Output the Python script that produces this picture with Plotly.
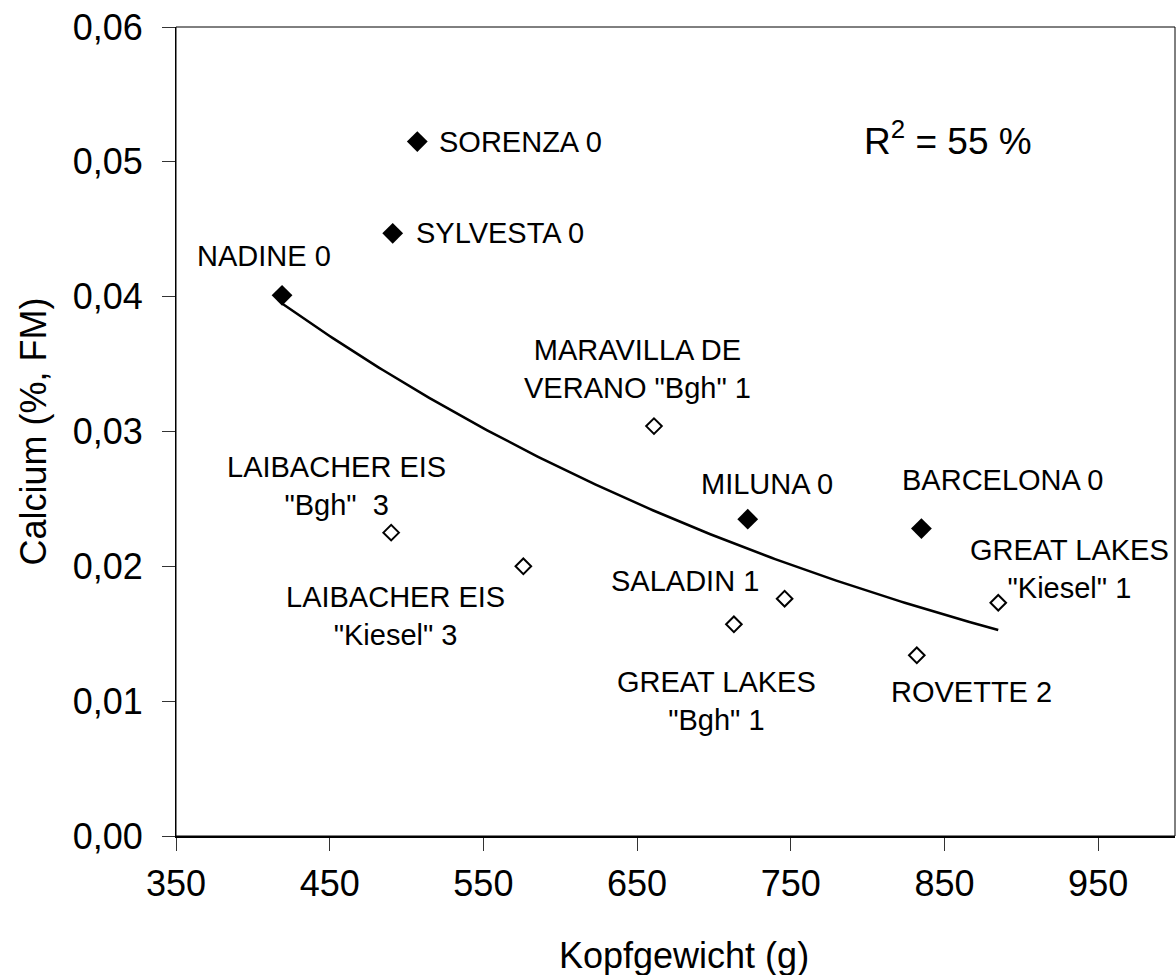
import numpy as np
import plotly.graph_objects as go

# Lettuce cultivars: head weight vs. calcium content (fresh matter)
cultivars = [
    "NADINE 0",
    "SYLVESTA 0",
    "SORENZA 0",
    'LAIBACHER EIS<br>"Bgh"\u00a0 3',
    'LAIBACHER EIS<br>"Kiesel" 3',
    'MARAVILLA DE<br>VERANO "Bgh" 1',
    'GREAT LAKES<br>"Bgh" 1',
    "MILUNA 0",
    "SALADIN 1",
    "ROVETTE 2",
    "BARCELONA 0",
    'GREAT LAKES<br>"Kiesel" 1',
]
kopfgewicht = [419, 491, 507, 490, 576, 661, 713, 722, 746, 832, 835, 885]
calcium = [0.0401, 0.0447, 0.0515, 0.0225, 0.0200, 0.0304, 0.0157, 0.0235,
           0.0176, 0.0134, 0.0228, 0.0173]
score = [0, 0, 0, 3, 3, 1, 1, 0, 1, 2, 0, 1]

x_ticks = [350, 450, 550, 650, 750, 850, 950]
y_ticks = [0.00, 0.01, 0.02, 0.03, 0.04, 0.05, 0.06]
r2_percent = 55

# label placement relative to each marker (pixels): anchor, dx, dy (screen, down positive)
label_anchor = ["center", "left", "left", "center", "center", "center", "center",
                "center", "right", "left", "center", "center"]
label_dx = [-18, 21, 20, -55, -128, -16, -17, 19, -24, -28, 81, 71]
label_dy = [-39, 0, 0, -47, 50, -57, 77, -35, -18, 37, -49, -34]

FONT = "Liberation Sans, Arial, sans-serif"

x = np.array(kopfgewicht, dtype=float)
y = np.array(calcium, dtype=float)
zero = np.array(score) == 0

# exponential trend line (least squares on ln y)
b, ln_a = np.polyfit(x, np.log(y), 1)
xt = np.linspace(x.min(), x.max(), 200)
yt = np.exp(ln_a + b * xt)

fig = go.Figure()
fig.add_trace(go.Scatter(x=xt, y=yt, mode="lines",
                         line=dict(color="black", width=2.5), hoverinfo="skip"))
fig.add_trace(go.Scatter(x=x[~zero], y=y[~zero], mode="markers",
                         marker=dict(symbol="diamond", size=12, color="white",
                                     line=dict(color="black", width=2))))
fig.add_trace(go.Scatter(x=x[zero], y=y[zero], mode="markers",
                         marker=dict(symbol="diamond", size=16, color="black",
                                     line=dict(width=0))))

for name, xv, yv, anc, dx, dy in zip(cultivars, kopfgewicht, calcium,
                                     label_anchor, label_dx, label_dy):
    fig.add_annotation(x=xv, y=yv, xref="x", yref="y", text=name, showarrow=False,
                       xanchor=anc, yanchor="middle", xshift=dx, yshift=-dy,
                       align="center", font=dict(family=FONT, size=29, color="black"))

fig.add_annotation(x=0.773, y=0.862, xref="paper", yref="paper",
                   text=f"R<sup>2</sup> = {r2_percent} %", showarrow=False,
                   xanchor="center", yanchor="middle",
                   font=dict(family=FONT, size=37, color="black"))

# axis titles
fig.add_annotation(x=0, y=0.5, xref="paper", yref="paper", text="Calcium (%, FM)",
                   textangle=-90, showarrow=False, xanchor="center", yanchor="middle",
                   xshift=-143, font=dict(family=FONT, size=36, color="black"))
fig.add_annotation(x=0.5, y=0, xref="paper", yref="paper", text="Kopfgewicht (g)",
                   showarrow=False, xanchor="center", yanchor="middle",
                   xshift=8, yshift=-119, font=dict(family=FONT, size=36, color="black"))

# plot-area frame
fig.add_shape(type="rect", xref="paper", yref="paper", x0=0, y0=0, x1=1, y1=1,
              line=dict(color="black", width=1), layer="above")

fig.update_layout(
    width=1176, height=975,
    margin=dict(l=176, r=1, t=27, b=139),
    plot_bgcolor="white", paper_bgcolor="white",
    showlegend=False, separators=",.",
    font=dict(family=FONT, color="black"),
)
fig.update_xaxes(range=[350, 1000], tickvals=x_ticks, ticks="outside", ticklen=13,
                 tickwidth=1, tickcolor="#333", showline=True, linecolor="black",
                 linewidth=2, showgrid=False, zeroline=False,
                 tickfont=dict(family=FONT, size=36), ticklabelstandoff=2)
fig.update_yaxes(range=[0, 0.06], tickvals=y_ticks, tickformat=".2f", ticks="outside",
                 ticklen=13, tickwidth=1, tickcolor="#333", showline=True,
                 linecolor="black", linewidth=1, showgrid=False, zeroline=False,
                 tickfont=dict(family=FONT, size=36), ticklabelstandoff=12)

fig.write_html("out.html")
